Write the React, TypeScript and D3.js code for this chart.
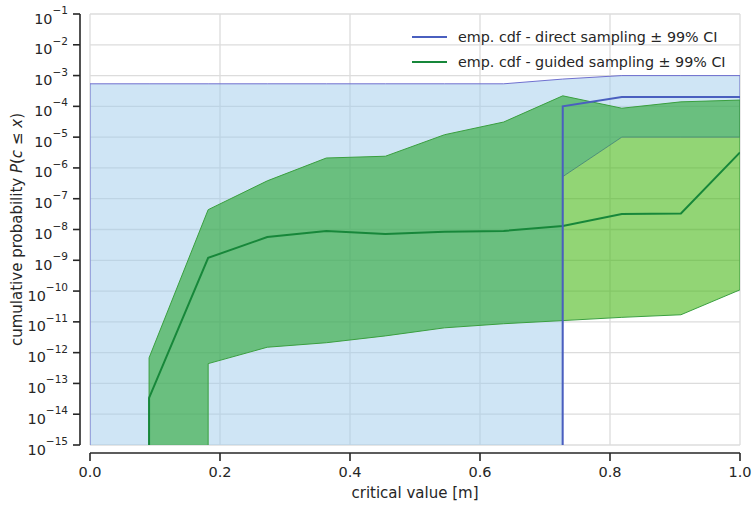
import React from 'react';
import * as d3 from 'd3';

// critical value grid (11 steps)
const xVals = [0, 0.0909, 0.1818, 0.2727, 0.3636, 0.4545, 0.5455, 0.6364, 0.7273, 0.8182, 0.9091, 1.0];

// direct sampling
const directCdf = [0, 0, 0, 0, 0, 0, 0, 0, 1e-4, 2e-4, 2e-4, 2e-4];
const directLow = [0, 0, 0, 0, 0, 0, 0, 0, 5.2e-7, 1e-5, 1e-5, 1e-5];
const directUp = [5.4e-4, 5.4e-4, 5.4e-4, 5.4e-4, 5.4e-4, 5.4e-4, 5.4e-4, 5.4e-4, 7.7e-4, 1e-3, 1e-3, 1e-3];

// guided sampling
const guidedCdf = [0, 3.4e-14, 1.2e-9, 5.7e-9, 9e-9, 7.2e-9, 8.4e-9, 9e-9, 1.3e-8, 3.2e-8, 3.3e-8, 3.2e-6];
const guidedLow = [0, 0, 4.4e-13, 1.5e-12, 2.1e-12, 3.5e-12, 6.4e-12, 8.7e-12, 1.1e-11, 1.4e-11, 1.7e-11, 1.1e-10];
const guidedUp = [0, 6.8e-13, 4.4e-8, 3.8e-7, 2.1e-6, 2.4e-6, 1.2e-5, 3.1e-5, 2.2e-4, 8.7e-5, 1.4e-4, 1.6e-4];

const xTicks = [0, 0.2, 0.4, 0.6, 0.8, 1.0];
const yExps = [-1, -2, -3, -4, -5, -6, -7, -8, -9, -10, -11, -12, -13, -14, -15];
const legendLabels = ['emp. cdf - direct sampling \u00b1 99% CI', 'emp. cdf - guided sampling \u00b1 99% CI'];

const BLUE = '#4a5fbf';
const GREEN = '#17873a';
const TXT = '#262626';
const FONT = 'DejaVu Sans, sans-serif';

const App = () => {
  const left = 90, right = 740, top = 14, bottom = 445;
  const x = d3.scaleLinear().domain([0, 1]).range([left, right]);
  const y = d3.scaleLog().domain([1e-15, 1e-1]).range([bottom, top]);
  // zeros sit far below the axes (like matplotlib clipping on a log axis)
  const yv = (v: number) => (v > 0 ? y(v) : bottom + 200000);

  const idx = xVals.map((_, i) => i);
  const area = (lo: number[], hi: number[]) =>
    d3.area<number>().x(i => x(xVals[i])).y0(i => yv(lo[i])).y1(i => yv(hi[i]))(idx) || '';
  const line = (vals: number[]) =>
    d3.line<number>().x(i => x(xVals[i])).y(i => yv(vals[i]))(idx) || '';

  const blueArea = area(directLow, directUp);
  const greenArea = area(guidedLow, guidedUp);

  return (
    <div style={{ position: 'absolute', left: 0, top: 0 }}>
      <svg width={756} height={505} style={{ display: 'block', background: '#fff' }} fontFamily={FONT}>
        <defs>
          <clipPath id="plot">
            <rect x={left} y={top} width={right - left} height={bottom - top} />
          </clipPath>
          <mask id="outBlue" maskUnits="userSpaceOnUse" x={0} y={0} width={756} height={505}>
            <rect x={0} y={0} width={756} height={505} fill="#fff" />
            <path d={blueArea} fill="#000" />
          </mask>
          <mask id="inBlue" maskUnits="userSpaceOnUse" x={0} y={0} width={756} height={505}>
            <rect x={0} y={0} width={756} height={505} fill="#000" />
            <path d={blueArea} fill="#fff" />
          </mask>
        </defs>

        {/* grid */}
        <g stroke="#dcdcdc" strokeWidth={1.3}>
          {yExps.map(e => (
            <line key={'gy' + e} x1={left} x2={right} y1={y(Math.pow(10, e))} y2={y(Math.pow(10, e))} />
          ))}
          {xTicks.map(t => (
            <line key={'gx' + t} x1={x(t)} x2={x(t)} y1={top} y2={bottom} />
          ))}
        </g>

        <g clipPath="url(#plot)">
          <path d={blueArea} fill="rgb(160,203,235)" fillOpacity={0.5} />
          <path d={blueArea} fill="none" stroke="#6f70cf" strokeWidth={1} />
          <path d={greenArea} fill="rgb(73,185,25)" fillOpacity={0.6} mask="url(#outBlue)" />
          <path d={greenArea} fill="rgb(38,165,48)" fillOpacity={0.6} mask="url(#inBlue)" />
          <path d={greenArea} fill="none" stroke="#3a9f3f" strokeWidth={1} />
          <path d={line(guidedCdf)} fill="none" stroke={GREEN} strokeWidth={2} />
          <path d={line(directCdf)} fill="none" stroke={BLUE} strokeWidth={2} />
        </g>

        {/* y axis */}
        <line x1={80} x2={80} y1={top} y2={bottom} stroke={TXT} strokeWidth={1.6} />
        {yExps.map(e => {
          const ty = y(Math.pow(10, e));
          return (
            <g key={'yt' + e}>
              <line x1={73} x2={80} y1={ty} y2={ty} stroke={TXT} strokeWidth={1.6} />
              <text x={68} y={ty + 9.5} textAnchor="end" fill={TXT} fontSize={14.4}>
                10<tspan dy={-9.5} fontSize={10.5}>{'\u2212' + Math.abs(e)}</tspan>
              </text>
            </g>
          );
        })}

        {/* x axis */}
        <line x1={left} x2={right} y1={453} y2={453} stroke={TXT} strokeWidth={1.6} />
        {xTicks.map(t => (
          <g key={'xt' + t}>
            <line x1={x(t)} x2={x(t)} y1={453} y2={461} stroke={TXT} strokeWidth={1.6} />
            <text x={x(t)} y={477} textAnchor="middle" fill={TXT} fontSize={14.5}>
              {t.toFixed(1)}
            </text>
          </g>
        ))}
        <text x={(left + right) / 2} y={498} textAnchor="middle" fill={TXT} fontSize={15}>
          critical value [m]
        </text>
        <text transform={`translate(22,${(top + bottom) / 2}) rotate(-90)`} textAnchor="middle" fill={TXT} fontSize={15}>
          cumulative probability <tspan fontStyle="italic">P</tspan>(<tspan fontStyle="italic">c</tspan> {'\u2264'} <tspan fontStyle="italic">x</tspan>)
        </text>

        {/* legend */}
        {legendLabels.map((lab, i) => {
          const ly = 37 + i * 25;
          return (
            <g key={lab}>
              <line x1={412} x2={447} y1={ly} y2={ly} stroke={i === 0 ? BLUE : GREEN} strokeWidth={2} />
              <text x={458} y={ly + 5} fill={TXT} fontSize={14.3}>{lab}</text>
            </g>
          );
        })}
      </svg>
    </div>
  );
};

export default App;
